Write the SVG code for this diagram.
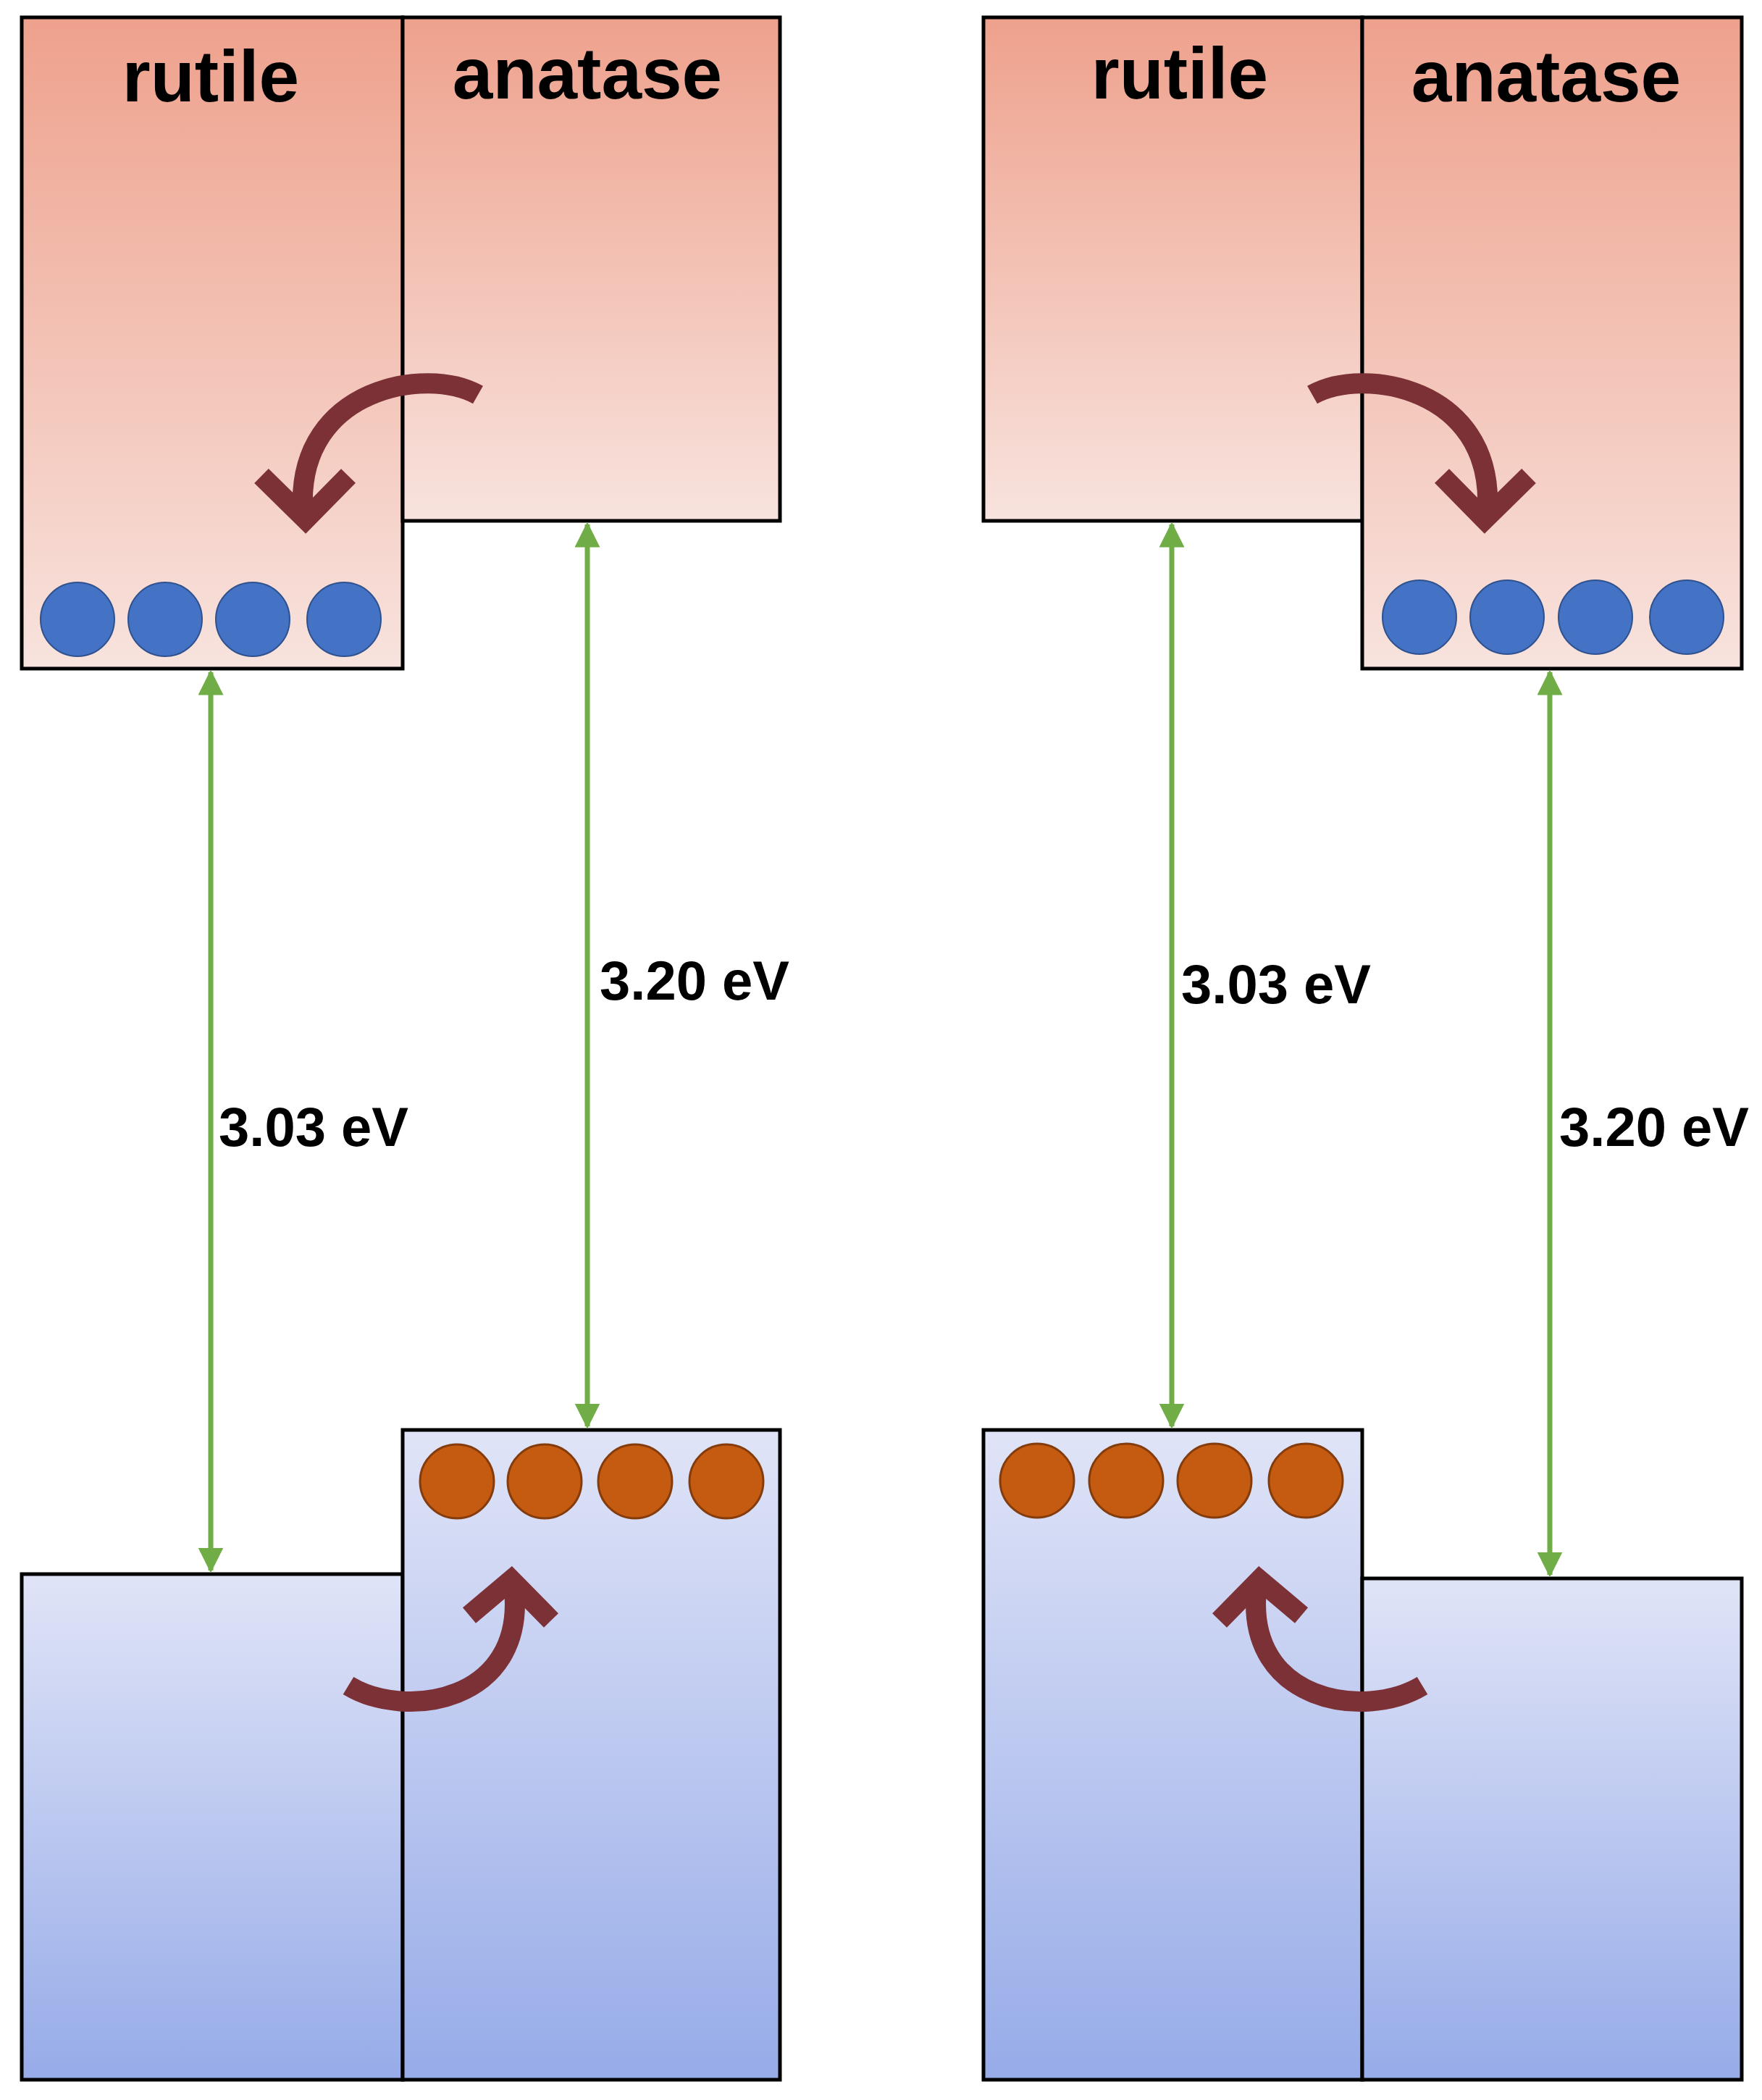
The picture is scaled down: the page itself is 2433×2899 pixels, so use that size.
<svg xmlns="http://www.w3.org/2000/svg" width="2433" height="2899" viewBox="0 0 2433 2899">
<style>
.cb{fill:url(#gc);stroke:#000;stroke-width:5}
.vb{fill:url(#gv);stroke:#000;stroke-width:5}
.t{font-family:"Liberation Sans",Arial,sans-serif;font-weight:bold;fill:#000}
.big{font-size:100px;text-anchor:middle}
.lab{font-size:76px}
.e{fill:#4472c4;stroke:#2f528f;stroke-width:2}
.h{fill:#c55a11;stroke:#843c0c;stroke-width:3}
.g{stroke:#70ad47;stroke-width:7;fill:none;marker-start:url(#ah);marker-end:url(#ah)}
.c{stroke:#7b3135;stroke-width:28;fill:none}
</style>
<defs>
<linearGradient id="gc" x1="0" y1="0" x2="0" y2="1"><stop offset="0" stop-color="#eea18c"/><stop offset="1" stop-color="#f8e3de"/></linearGradient>
<linearGradient id="gv" x1="0" y1="0" x2="0" y2="1"><stop offset="0" stop-color="#e0e4f7"/><stop offset="1" stop-color="#96abe8"/></linearGradient>
<marker id="ah" viewBox="0 0 10 10" refX="9" refY="5" markerWidth="5" markerHeight="5" orient="auto-start-reverse" markerUnits="strokeWidth"><path d="M0,0L10,5L0,10z" fill="#70ad47"/></marker>
<g id="carrTop"><path class="c" d="M660,545 C590,505 412,535 418,700"/><polyline class="c" points="361,657 422,717 481,657"/></g>
<g id="carrBot"><path class="c" d="M481,2327 C560,2375 725,2350 710,2195"/><polyline class="c" points="648,2230 706,2181 761,2237"/></g>
</defs>
<g id="left-rutile-cb"><rect class="cb" x="30" y="24" width="526" height="899"/><text class="t big" x="291" y="140">rutile</text></g>
<g id="left-anatase-cb"><rect class="cb" x="556" y="24" width="521" height="695"/><text class="t big" x="811" y="136">anatase</text></g>
<g id="left-rutile-vb"><rect class="vb" x="30" y="2173" width="526" height="698"/></g>
<g id="left-anatase-vb"><rect class="vb" x="556" y="1974" width="521" height="897"/></g>
<g id="right-rutile-cb"><rect class="cb" x="1358" y="24" width="523" height="695"/><text class="t big" x="1629" y="136">rutile</text></g>
<g id="right-anatase-cb"><rect class="cb" x="1881" y="24" width="524" height="899"/><text class="t big" x="2135" y="140">anatase</text></g>
<g id="right-rutile-vb"><rect class="vb" x="1358" y="1974" width="523" height="897"/></g>
<g id="right-anatase-vb"><rect class="vb" x="1881" y="2179" width="524" height="692"/></g>
<g id="electrons-left"><circle class="e" cx="107" cy="855" r="51"/><circle class="e" cx="228" cy="855" r="51"/><circle class="e" cx="349" cy="855" r="51"/><circle class="e" cx="475" cy="855" r="51"/></g>
<g id="electrons-right"><circle class="e" cx="1960" cy="852" r="51"/><circle class="e" cx="2081" cy="852" r="51"/><circle class="e" cx="2203" cy="852" r="51"/><circle class="e" cx="2329" cy="852" r="51"/></g>
<g id="holes-left"><circle class="h" cx="631" cy="2045" r="51"/><circle class="h" cx="752" cy="2045" r="51"/><circle class="h" cx="877" cy="2045" r="51"/><circle class="h" cx="1003" cy="2045" r="51"/></g>
<g id="holes-right"><circle class="h" cx="1432" cy="2044" r="51"/><circle class="h" cx="1555" cy="2044" r="51"/><circle class="h" cx="1677" cy="2044" r="51"/><circle class="h" cx="1803" cy="2044" r="51"/></g>
<g id="connectors">
<line class="g" x1="291" y1="928" x2="291" y2="2168"/>
<line class="g" x1="811" y1="724" x2="811" y2="1969"/>
<line class="g" x1="1618" y1="724" x2="1618" y2="1969"/>
<line class="g" x1="2140" y1="928" x2="2140" y2="2174"/>
<use href="#carrTop"/>
<use href="#carrBot"/>
<use href="#carrTop" transform="translate(2472,0) scale(-1,1)"/>
<use href="#carrBot" transform="translate(2445,0) scale(-1,1)"/>
</g>
<g id="labels">
<text class="t lab" x="302" y="1582">3.03 eV</text>
<text class="t lab" x="828" y="1380">3.20 eV</text>
<text class="t lab" x="1631" y="1385">3.03 eV</text>
<text class="t lab" x="2153" y="1582">3.20 eV</text>
</g>
</svg>
